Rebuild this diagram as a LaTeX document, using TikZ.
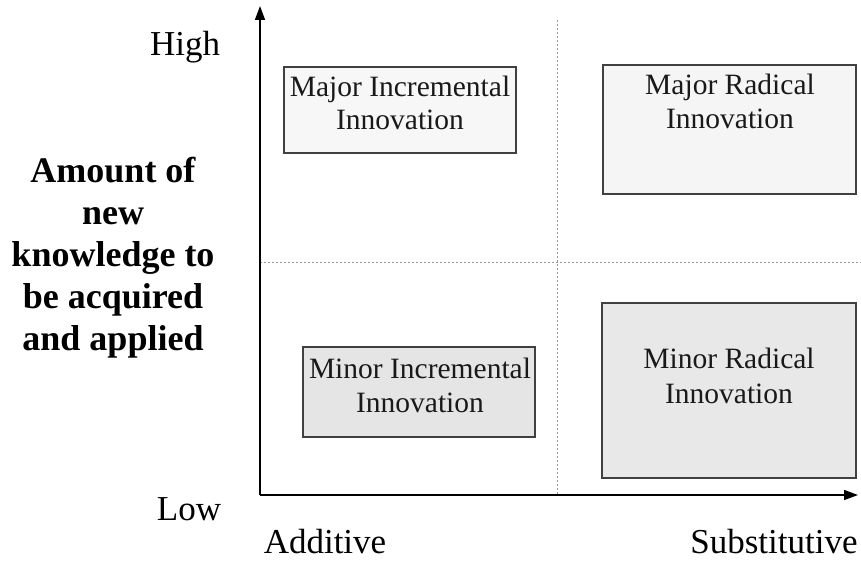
\documentclass[tikz,border=0pt]{standalone}
\usepackage{fontspec}
\setmainfont{Liberation Serif}
\usetikzlibrary{arrows.meta}
\begin{document}
\begin{tikzpicture}[x=1pt,y=-1pt,
  axis/.style={draw=black,line width=1.6pt,-{Triangle[length=14pt,width=10pt]}},
  divider/.style={draw=gray!80,line width=0.7pt,dash pattern=on 2pt off 2pt},
  quadbox/.style={draw=black!75,line width=1.3pt,rectangle,inner sep=0pt},
  boxtext/.style={font=\fontsize{29.5}{33}\selectfont,anchor=base,inner sep=0pt,text=black!90},
  axtext/.style={font=\fontsize{35}{40}\selectfont,anchor=base,inner sep=0pt},
  ylabel/.style={font=\fontsize{36}{42}\selectfont\bfseries,anchor=base,inner sep=0pt}]
\useasboundingbox (0,0) rectangle (861,561);
% axes
\coordinate (O) at (260,495);
\coordinate (ytop) at (260,6);
\coordinate (xend) at (858,495);
\coordinate (vtop) at (557,20);
\coordinate (vbot) at (557,495);
\coordinate (hl) at (260,262);
\coordinate (hr) at (861,262);
\draw[divider] (vtop) -- (vbot);
\draw[divider] (hl) -- (hr);
% boxes
\node[quadbox,fill=black!3,minimum width=232pt,minimum height=86pt] (mi) at (400,110) {};
\node[quadbox,fill=black!4,minimum width=253pt,minimum height=129pt] (mr) at (729.5,129.5) {};
\node[quadbox,fill=black!10,minimum width=232pt,minimum height=90pt] (ni) at (419,392) {};
\node[quadbox,fill=black!9,minimum width=254pt,minimum height=175pt] (nr) at (729,390.5) {};
\node[boxtext] (mi1) at (400,97) {Major Incremental};
\node[boxtext] (mi2) at (400,130) {Innovation};
\node[boxtext] (mr1) at (730,95) {Major Radical};
\node[boxtext] (mr2) at (730,129) {Innovation};
\node[boxtext] (ni1) at (420,378) {Minor Incremental};
\node[boxtext] (ni2) at (420,412) {Innovation};
\node[boxtext] (nr1) at (729,368) {Minor Radical};
\node[boxtext] (nr2) at (729,403) {Innovation};
\draw[axis] (O) -- (ytop);
\draw[axis] (O) -- (xend);
% axis labels
\node[axtext] (high) at (185,56) {High};
\node[axtext] (low) at (189,520) {Low};
\node[axtext] (add) at (325,553) {Additive};
\node[axtext] (sub) at (774,553) {Substitutive};
\node[ylabel] (l1) at (113,183) {Amount of};
\node[ylabel] (l2) at (113,225) {new};
\node[ylabel] (l3) at (113,266) {knowledge to};
\node[ylabel] (l4) at (113,308) {be acquired};
\node[ylabel] (l5) at (113,350) {and applied};
\end{tikzpicture}
\end{document}
